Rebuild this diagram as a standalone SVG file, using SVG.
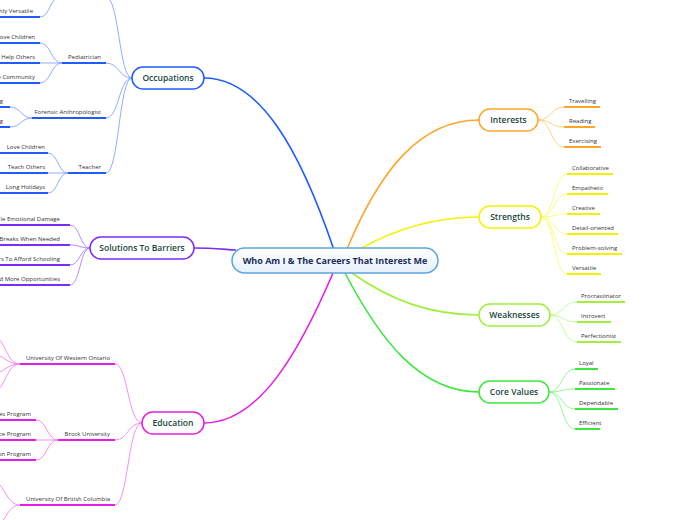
<svg xmlns="http://www.w3.org/2000/svg" width="696" height="520" viewBox="0 0 696 520">
<defs>
<linearGradient id="cg" x1="0" y1="0" x2="0" y2="1">
<stop offset="0" stop-color="#ffffff"/>
<stop offset="1" stop-color="#e6f1fb"/>
</linearGradient>
</defs>
<style>
.leaf{font-family:"Open Sans","Noto Sans",sans-serif;font-size:6px;fill:#333}
.lbl{font-family:"Open Sans","Noto Sans",sans-serif;font-size:8.5px;font-weight:600;fill:#17473a;text-anchor:middle}
.ctr{font-family:"Open Sans","Noto Sans",sans-serif;font-size:9px;font-weight:bold;fill:#1c2d5c;text-anchor:middle}
.end{text-anchor:end}
path,line{fill:none}
.main{stroke-width:1.6}
.sub{stroke-width:0.9}
.ul{stroke-width:2}
.box{fill:#fff;stroke-width:1.5}
.b1{stroke:#1f5cff}.s1{stroke:#86a2ff}
.b2{stroke:#7a2ef5}.s2{stroke:#a983ff}
.b3{stroke:#e51ee5}.s3{stroke:#f383f3}
.b4{stroke:#ffa52c}.s4{stroke:#ffc978}
.b5{stroke:#f2f200}.s5{stroke:#fbfb70}
.b6{stroke:#9ef03c}.s6{stroke:#c2f88a}
.b7{stroke:#3ee63e}.s7{stroke:#8cf08c}
</style>
<rect width="696" height="520" fill="#fff"/>
<g id="connectors">
<path class="main b1" d="M334 250 C300 150 260 78 204 78"/>
<path class="main b2" d="M236 250 C220 249 210 248 194 248"/>
<path class="main b3" d="M333 273 C300 350 260 423 204 423"/>
<path class="main b4" d="M347 249 C380 170 420 120 479 120"/>
<path class="main b5" d="M360 249 C390 232 430 217 479 217"/>
<path class="main b6" d="M352 273 C390 300 430 315 479 315"/>
<path class="main b7" d="M345 273 C380 340 420 392 479 392"/>
<path class="sub s1" d="M132 78 C119 78 119 -3 106 -3"/>
<path class="sub s1" d="M132 78 C119 78 119 63 106 63"/>
<path class="sub s1" d="M132 78 C119 78 119 118 106 118"/>
<path class="sub s1" d="M132 78 C119 78 119 173 106 173"/>
<path class="sub s1" d="M60 -3 C50 -3 50 17 40 17"/>
<path class="sub s1" d="M62 63 C51 63 51 43 40 43"/>
<path class="sub s1" d="M62 63 C51 63 51 63 40 63"/>
<path class="sub s1" d="M62 63 C51 63 51 83 40 83"/>
<path class="sub s1" d="M32 118 C21 118 21 107 10 107"/>
<path class="sub s1" d="M32 118 C21 118 21 127 10 127"/>
<path class="sub s1" d="M68 173 C58 173 58 153 48 153"/>
<path class="sub s1" d="M68 173 C58 173 58 173 48 173"/>
<path class="sub s1" d="M68 173 C58 173 58 193 48 193"/>
<path class="sub s2" d="M90 248 C80 248 80 225 70 225"/>
<path class="sub s2" d="M90 248 C80 248 80 245 70 245"/>
<path class="sub s2" d="M90 248 C80 248 80 265 70 265"/>
<path class="sub s2" d="M90 248 C80 248 80 285 70 285"/>
<path class="sub s3" d="M142 423 C128 423 128 364 115 364"/>
<path class="sub s3" d="M142 423 C128 423 128 440 115 440"/>
<path class="sub s3" d="M142 423 C128 423 128 505 115 505"/>
<path class="sub s3" d="M20 364 C5 364 5 334 -10 334"/>
<path class="sub s3" d="M20 364 C5 364 5 354 -10 354"/>
<path class="sub s3" d="M20 364 C5 364 5 374 -10 374"/>
<path class="sub s3" d="M20 364 C5 364 5 394 -10 394"/>
<path class="sub s3" d="M58 440 C47 440 47 420 36 420"/>
<path class="sub s3" d="M58 440 C47 440 47 440 36 440"/>
<path class="sub s3" d="M58 440 C47 440 47 460 36 460"/>
<path class="sub s3" d="M20 505 C5 505 5 480 -10 480"/>
<path class="sub s3" d="M20 505 C5 505 5 530 -10 530"/>
<path class="sub s4" d="M538 120 C551 120 551 107 564 107"/>
<path class="sub s4" d="M538 120 C551 120 551 127 564 127"/>
<path class="sub s4" d="M538 120 C551 120 551 147 564 147"/>
<path class="sub s5" d="M541 217 C554 217 554 174 567 174"/>
<path class="sub s5" d="M541 217 C554 217 554 194 567 194"/>
<path class="sub s5" d="M541 217 C554 217 554 214 567 214"/>
<path class="sub s5" d="M541 217 C554 217 554 234 567 234"/>
<path class="sub s5" d="M541 217 C554 217 554 254 567 254"/>
<path class="sub s5" d="M541 217 C554 217 554 274 567 274"/>
<path class="sub s6" d="M550 315 C563 315 563 302 577 302"/>
<path class="sub s6" d="M550 315 C563 315 563 322 577 322"/>
<path class="sub s6" d="M550 315 C563 315 563 342 577 342"/>
<path class="sub s7" d="M549 392 C562 392 562 369 575 369"/>
<path class="sub s7" d="M549 392 C562 392 562 389 575 389"/>
<path class="sub s7" d="M549 392 C562 392 562 409 575 409"/>
<path class="sub s7" d="M549 392 C562 392 562 429 575 429"/>
</g>

<g id="center">
<rect x="232" y="248" width="206" height="25" rx="12.5" fill="url(#cg)" stroke="#5aa5dc" stroke-width="1.5"/>
<text class="ctr" x="335" y="264">Who Am I &amp; The Careers That Interest Me</text>
</g>

<g id="occupations">
<rect class="box b1" x="132" y="67" width="72" height="22" rx="11"/>
<text class="lbl" x="168" y="81">Occupations</text>
</g>
<g id="occ-top"><line class="ul b1" x1="62" y1="-3" x2="106" y2="-3"/></g>
<g id="occ-top-versatile"><line class="ul b1" x1="0" y1="17" x2="40" y2="17"/><text class="leaf end" x="33" y="13">hly Versatile</text></g>
<g id="pediatrician"><line class="ul b1" x1="62" y1="63" x2="106" y2="63"/><text class="leaf end" x="101" y="59">Pediatrician</text></g>
<g id="ped-1"><line class="ul b1" x1="0" y1="43" x2="40" y2="43"/><text class="leaf end" x="35" y="39">ove Children</text></g>
<g id="ped-2"><line class="ul b1" x1="0" y1="63" x2="40" y2="63"/><text class="leaf end" x="35" y="59">Help Others</text></g>
<g id="ped-3"><line class="ul b1" x1="0" y1="83" x2="40" y2="83"/><text class="leaf end" x="35" y="79">e Community</text></g>
<g id="forensic"><line class="ul b1" x1="32" y1="118" x2="106" y2="118"/><text class="leaf end" x="101" y="114">Forensic Anthropologist</text></g>
<g id="for-1"><line class="ul b1" x1="0" y1="107" x2="10" y2="107"/><text class="leaf end" x="3" y="103">g</text></g>
<g id="for-2"><line class="ul b1" x1="0" y1="127" x2="10" y2="127"/><text class="leaf end" x="3" y="123">g</text></g>
<g id="teacher"><line class="ul b1" x1="68" y1="173" x2="106" y2="173"/><text class="leaf end" x="101" y="169">Teacher</text></g>
<g id="tea-1"><line class="ul b1" x1="0" y1="153" x2="48" y2="153"/><text class="leaf end" x="45" y="149">Love Children</text></g>
<g id="tea-2"><line class="ul b1" x1="0" y1="173" x2="48" y2="173"/><text class="leaf end" x="45" y="169">Teach Others</text></g>
<g id="tea-3"><line class="ul b1" x1="0" y1="193" x2="48" y2="193"/><text class="leaf end" x="45" y="189">Long Holidays</text></g>

<g id="solutions">
<rect class="box b2" x="90" y="237" width="104" height="22" rx="11"/>
<text class="lbl" x="142" y="251">Solutions To Barriers</text>
</g>
<g id="sol-1"><line class="ul b2" x1="0" y1="225" x2="70" y2="225"/><text class="leaf end" x="60" y="221">le Emotional Damage</text></g>
<g id="sol-2"><line class="ul b2" x1="0" y1="245" x2="70" y2="245"/><text class="leaf end" x="60" y="241">Breaks When Needed</text></g>
<g id="sol-3"><line class="ul b2" x1="0" y1="265" x2="70" y2="265"/><text class="leaf end" x="60" y="261">rs To Afford Schooling</text></g>
<g id="sol-4"><line class="ul b2" x1="0" y1="285" x2="70" y2="285"/><text class="leaf end" x="60" y="281">d More Opportunities</text></g>

<g id="education">
<rect class="box b3" x="142" y="412" width="62" height="22" rx="11"/>
<text class="lbl" x="173" y="426">Education</text>
</g>
<g id="uwo"><line class="ul b3" x1="20" y1="364" x2="115" y2="364"/><text class="leaf end" x="110" y="360">University Of Western Ontario</text></g>
<g id="brock"><line class="ul b3" x1="58" y1="440" x2="115" y2="440"/><text class="leaf end" x="110" y="436">Brock University</text></g>
<g id="brock-1"><line class="ul b3" x1="0" y1="420" x2="36" y2="420"/><text class="leaf end" x="31" y="416">es Program</text></g>
<g id="brock-2"><line class="ul b3" x1="0" y1="440" x2="36" y2="440"/><text class="leaf end" x="31" y="436">ce Program</text></g>
<g id="brock-3"><line class="ul b3" x1="0" y1="460" x2="36" y2="460"/><text class="leaf end" x="31" y="456">on Program</text></g>
<g id="ubc"><line class="ul b3" x1="20" y1="505" x2="115" y2="505"/><text class="leaf end" x="110" y="501">University Of British Columbia</text></g>

<g id="interests">
<rect class="box b4" x="479" y="109" width="59" height="22" rx="11"/>
<text class="lbl" x="508.5" y="123">Interests</text>
</g>
<g id="int-1"><line class="ul b4" x1="564" y1="107" x2="600" y2="107"/><text class="leaf" x="569" y="103">Travelling</text></g>
<g id="int-2"><line class="ul b4" x1="564" y1="127" x2="595" y2="127"/><text class="leaf" x="569" y="123">Reading</text></g>
<g id="int-3"><line class="ul b4" x1="564" y1="147" x2="601" y2="147"/><text class="leaf" x="569" y="143">Exercising</text></g>

<g id="strengths">
<rect class="box b5" x="479" y="206" width="62" height="22" rx="11"/>
<text class="lbl" x="510" y="220">Strengths</text>
</g>
<g id="str-1"><line class="ul b5" x1="567" y1="174" x2="613" y2="174"/><text class="leaf" x="572" y="170">Collaborative</text></g>
<g id="str-2"><line class="ul b5" x1="567" y1="194" x2="608" y2="194"/><text class="leaf" x="572" y="190">Empathetic</text></g>
<g id="str-3"><line class="ul b5" x1="567" y1="214" x2="600" y2="214"/><text class="leaf" x="572" y="210">Creative</text></g>
<g id="str-4"><line class="ul b5" x1="567" y1="234" x2="618" y2="234"/><text class="leaf" x="572" y="230">Detail-oriented</text></g>
<g id="str-5"><line class="ul b5" x1="567" y1="254" x2="622" y2="254"/><text class="leaf" x="572" y="250">Problem-solving</text></g>
<g id="str-6"><line class="ul b5" x1="567" y1="274" x2="601" y2="274"/><text class="leaf" x="572" y="270">Versatile</text></g>

<g id="weaknesses">
<rect class="box b6" x="479" y="304" width="71" height="22" rx="11"/>
<text class="lbl" x="514.5" y="318">Weaknesses</text>
</g>
<g id="wk-1"><line class="ul b6" x1="577" y1="302" x2="625" y2="302"/><text class="leaf" x="581" y="298">Procrastinator</text></g>
<g id="wk-2"><line class="ul b6" x1="577" y1="322" x2="611" y2="322"/><text class="leaf" x="581" y="318">Introvert</text></g>
<g id="wk-3"><line class="ul b6" x1="577" y1="342" x2="621" y2="342"/><text class="leaf" x="581" y="338">Perfectionist</text></g>

<g id="corevalues">
<rect class="box b7" x="479" y="381" width="70" height="22" rx="11"/>
<text class="lbl" x="514" y="395">Core Values</text>
</g>
<g id="cv-1"><line class="ul b7" x1="575" y1="369" x2="598" y2="369"/><text class="leaf" x="579" y="365">Loyal</text></g>
<g id="cv-2"><line class="ul b7" x1="575" y1="389" x2="615" y2="389"/><text class="leaf" x="579" y="385">Passionate</text></g>
<g id="cv-3"><line class="ul b7" x1="575" y1="409" x2="618" y2="409"/><text class="leaf" x="579" y="405">Dependable</text></g>
<g id="cv-4"><line class="ul b7" x1="575" y1="429" x2="600" y2="429"/><text class="leaf" x="579" y="425">Efficient</text></g>
</svg>
